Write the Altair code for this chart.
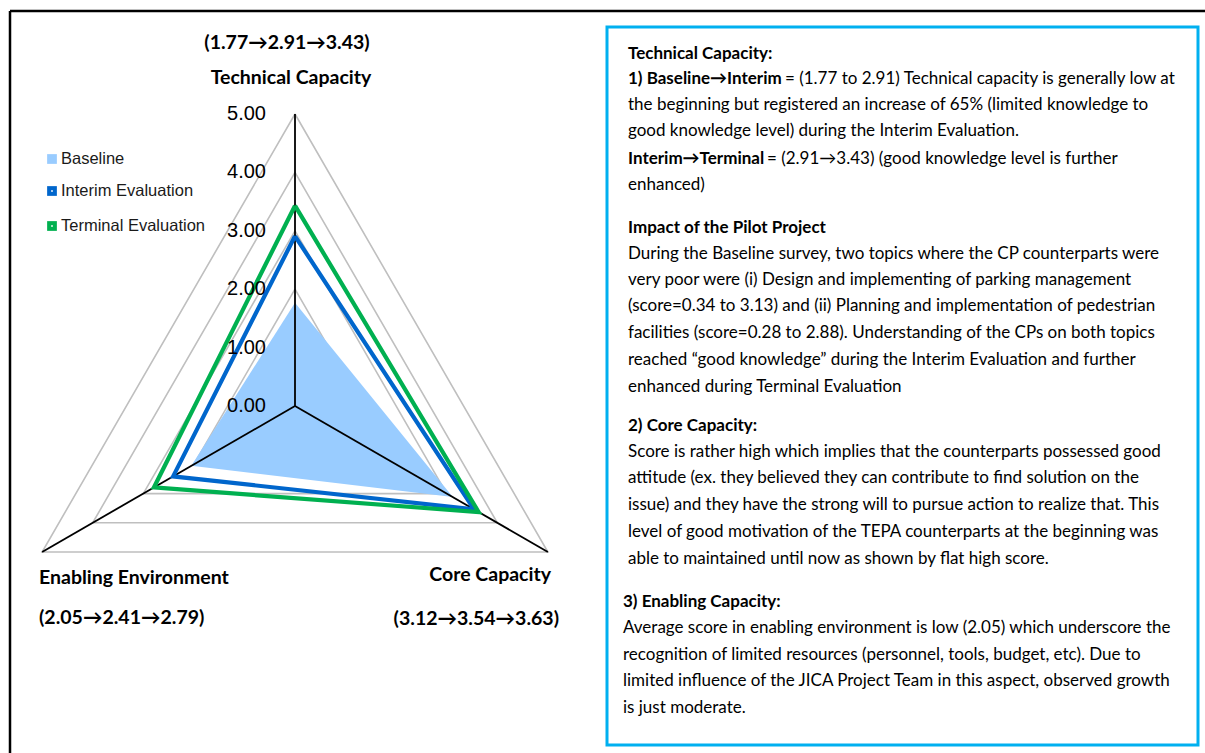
import altair as alt
import pandas as pd

# ---------------- data ----------------
categories = ["Technical Capacity", "Core Capacity", "Enabling Environment"]
angles_deg = [0, 120, 240]
series_names = ["Baseline", "Interim Evaluation", "Terminal Evaluation"]
baseline = [1.77, 3.12, 2.05]
interim = [2.91, 3.54, 2.41]
terminal = [3.43, 3.63, 2.79]
levels = [0, 1, 2, 3, 4, 5]
level_labels = ["0.00", "1.00", "2.00", "3.00", "4.00", "5.00"]

box_bold = [
    "Technical Capacity:", "1) Baseline\u2192Interim", "", "", "Interim\u2192Terminal", "",
    "Impact of the Pilot Project", "", "", "", "", "", "",
    "2) Core Capacity:", "", "", "", "", "",
    "3) Enabling Capacity:", "", "", "", "",
]
box_regular = [
    "",
    "= (1.77 to 2.91) Technical capacity is generally low at",
    "the beginning but registered an increase of 65% (limited knowledge to",
    "good knowledge level) during the Interim Evaluation.",
    "= (2.91\u21923.43) (good knowledge level is further",
    "enhanced)",
    "",
    "During the Baseline survey, two topics where the CP counterparts were",
    "very poor were (i) Design and implementing of parking management",
    "(score=0.34 to 3.13) and (ii) Planning and implementation of pedestrian",
    "facilities (score=0.28 to 2.88). Understanding of the CPs on both topics",
    "reached \u201cgood knowledge\u201d during the Interim Evaluation and further",
    "enhanced during Terminal Evaluation",
    "",
    "Score is rather high which implies that the counterparts possessed good",
    "attitude (ex. they believed they can contribute to find solution on the",
    "issue) and they have the strong will to pursue action to realize that. This",
    "level of good motivation of the TEPA counterparts at the beginning was",
    "able to maintained until now as shown by flat high score.",
    "",
    "Average score in enabling environment is low (2.05) which underscore the",
    "recognition of limited resources (personnel, tools, budget, etc).  Due to",
    "limited influence of the JICA Project Team in this aspect, observed growth",
    "is just moderate.",
]

# ---------------- layout ----------------
W, H = 1205, 753
CX, CY, K = 295, 406, 58.4   # radar centre and pixels per score unit
BOX_Y = [54, 79, 105, 131, 159, 185, 228, 254, 280, 306, 333, 360, 387,
         426, 452, 478, 505, 532, 559, 602, 628, 655, 681, 708]
BOX_X = [628] * 19 + [623] * 5
REG_X = {1: 785, 4: 767}      # start of regular text after a bold lead-in
BODY_FONT = "Lato"
BOLD_SIZE = 17
REG_SIZE = 17
LABEL_SIZE = 19.5

XS = alt.Scale(domain=[0, W], nice=False, zero=False)
YS = alt.Scale(domain=[0, H], nice=False, zero=False, reverse=True)

calc_x = f"{CX} + datum.value * {K} * sin(datum.angle * PI / 180)"
calc_y = f"{CY} - datum.value * {K} * cos(datum.angle * PI / 180)"

rows = []
for name, vals in zip(series_names, [baseline, interim, terminal]):
    for j in range(len(categories) + 1):
        idx = j % len(categories)
        rows.append({"series": name, "ord": j, "value": vals[idx], "angle": angles_deg[idx]})
series_df = pd.DataFrame(rows)

grid_rows = []
for lv in levels[1:]:
    for j in range(len(categories) + 1):
        idx = j % len(categories)
        grid_rows.append({"level": lv, "ord": j, "value": lv, "angle": angles_deg[idx]})
grid_df = pd.DataFrame(grid_rows)

spoke_df = pd.DataFrame({"angle": angles_deg, "value": [levels[-1]] * len(angles_deg)})
lvl_df = pd.DataFrame({"value": levels, "label": level_labels, "angle": [0] * len(levels)})


def base(df):
    return alt.Chart(df).transform_calculate(px=calc_x, py=calc_y)


X = alt.X("px:Q", scale=XS, axis=None)
Y = alt.Y("py:Q", scale=YS, axis=None)
color_scale = alt.Scale(domain=series_names, range=["#99CCFF", "#0066CC", "#00B050"])

grid = base(grid_df).mark_line(color="#BFBFBF", strokeWidth=1.6).encode(
    x=X, y=Y, detail="level:N", order="ord:Q"
)

fill = base(series_df[series_df.series == "Baseline"]).mark_line(
    fill="#99CCFF", fillOpacity=1, strokeOpacity=0
).encode(x=X, y=Y, order="ord:Q")

spokes = alt.Chart(spoke_df).transform_calculate(
    px=calc_x, py=calc_y, cx=str(CX), cy=str(CY)
).mark_rule(color="black", strokeWidth=1.8).encode(
    x=alt.X("cx:Q", scale=XS, axis=None),
    y=alt.Y("cy:Q", scale=YS, axis=None),
    x2="px:Q", y2="py:Q",
)

lines = base(series_df[series_df.series != "Baseline"]).mark_line(
    strokeWidth=4.2, strokeJoin="miter", strokeMiterLimit=20
).encode(
    x=X, y=Y,
    color=alt.Color("series:N", scale=color_scale, legend=None),
    detail="series:N", order="ord:Q",
)

lvl_text = base(lvl_df).mark_text(
    align="right", baseline="middle", font="Liberation Sans", fontSize=20, color="#000000"
).encode(x=alt.value(266), y=Y, text="label:N")


def fmt(i):
    return f"({baseline[i]:.2f}\u2192{interim[i]:.2f}\u2192{terminal[i]:.2f})"


cat_df = pd.DataFrame([
    {"x": 291, "y": 78, "t": categories[0], "a": "center"},
    {"x": 287, "y": 43, "t": fmt(0), "a": "center"},
    {"x": 551, "y": 575, "t": categories[1], "a": "right"},
    {"x": 559, "y": 619, "t": fmt(1), "a": "right"},
    {"x": 39, "y": 578, "t": categories[2], "a": "left"},
    {"x": 39, "y": 618, "t": fmt(2), "a": "left"},
])
cat_layers = [
    alt.Chart(cat_df[cat_df.a == al]).mark_text(
        align=al, baseline="middle", font=BODY_FONT, fontWeight="bold",
        fontSize=LABEL_SIZE, color="#000000"
    ).encode(
        x=alt.X("x:Q", scale=XS, axis=None),
        y=alt.Y("y:Q", scale=YS, axis=None),
        text="t:N",
    )
    for al in ["center", "left", "right"]
]

leg_df = pd.DataFrame({"series": series_names, "y": [159, 191, 226]})
leg_sym = alt.Chart(leg_df).mark_square(size=95, opacity=1).encode(
    x=alt.value(52),
    y=alt.Y("y:Q", scale=YS, axis=None),
    color=alt.Color("series:N", scale=color_scale, legend=None),
)
leg_dot = alt.Chart(leg_df[leg_df.series != "Baseline"]).mark_square(
    size=3, color="white", opacity=1
).encode(x=alt.value(52), y=alt.Y("y:Q", scale=YS, axis=None))
leg_txt = alt.Chart(leg_df).mark_text(
    align="left", baseline="middle", font="Liberation Sans", fontSize=16.5, color="#1A1A1A"
).encode(x=alt.value(61), y=alt.Y("y:Q", scale=YS, axis=None), text="series:N")

one = pd.DataFrame({"a": [0]})
frame_top = alt.Chart(one).mark_rule(color="black", strokeWidth=2.5).encode(
    x=alt.value(10), x2=alt.value(W), y=alt.value(11), y2=alt.value(11)
)
frame_left = alt.Chart(one).mark_rule(color="black", strokeWidth=2.5).encode(
    x=alt.value(10), x2=alt.value(10), y=alt.value(11), y2=alt.value(H)
)
box = alt.Chart(one).mark_rect(fill="white", stroke="#00B0F0", strokeWidth=3).encode(
    x=alt.value(607), x2=alt.value(1198), y=alt.value(27), y2=alt.value(745)
)

bold_df = pd.DataFrame([
    {"x": BOX_X[i], "y": BOX_Y[i], "t": b} for i, b in enumerate(box_bold) if b
])
reg_df = pd.DataFrame([
    {"x": REG_X.get(i, BOX_X[i]), "y": BOX_Y[i], "t": r} for i, r in enumerate(box_regular) if r
])
bold_txt = alt.Chart(bold_df).mark_text(
    align="left", baseline="middle", font=BODY_FONT, fontWeight="bold",
    fontSize=BOLD_SIZE, color="#000000"
).encode(x=alt.X("x:Q", scale=XS, axis=None), y=alt.Y("y:Q", scale=YS, axis=None), text="t:N")
reg_txt = alt.Chart(reg_df).mark_text(
    align="left", baseline="middle", font=BODY_FONT, fontSize=REG_SIZE, color="#000000"
).encode(x=alt.X("x:Q", scale=XS, axis=None), y=alt.Y("y:Q", scale=YS, axis=None), text="t:N")

chart = alt.layer(
    frame_top, frame_left, box, grid, fill, spokes, lines, lvl_text, *cat_layers,
    leg_sym, leg_dot, leg_txt, bold_txt, reg_txt,
).properties(
    width=W, height=H, autosize=alt.AutoSizeParams(type="none"), padding=0, background="white"
).configure_view(stroke=None)

chart.save("out.html", embed_options={"renderer": "svg", "actions": False})
